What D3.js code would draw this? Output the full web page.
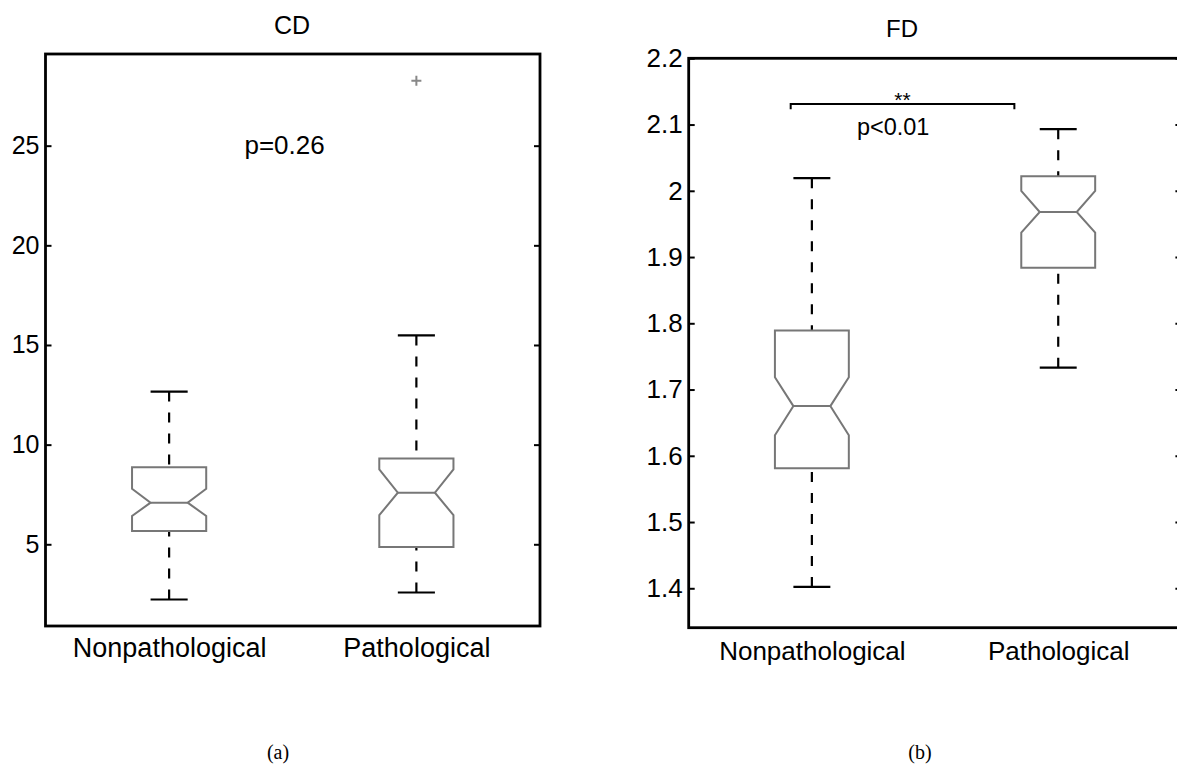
<!DOCTYPE html>
<html>
<head>
<meta charset="utf-8">
<script src="https://cdn.jsdelivr.net/npm/d3@7"></script>
<style>
  body { margin: 0; background: #fff; }
  svg { display: block; }
</style>
</head>
<body>
<div id="figure"></div>
<script>
// group names (same for both panels)
var categories = ["Nonpathological", "Pathological"];

// CD panel: box plot statistics
var cdWhiskerLow  = [2.23, 2.58];
var cdQ1          = [5.67, 4.87];
var cdNotchLow    = [6.42, 6.46];
var cdMedian      = [7.09, 7.59];
var cdNotchHigh   = [7.79, 8.76];
var cdQ3          = [8.86, 9.31];
var cdWhiskerHigh = [12.66, 15.48];
var cdOutliers    = [[], [28.26]];
var cdTicks       = [5, 10, 15, 20, 25];
var cdTickLabels  = ["5", "10", "15", "20", "25"];

// FD panel
var fdWhiskerLow  = [1.402, 1.733];
var fdQ1          = [1.581, 1.884];
var fdNotchLow    = [1.631, 1.937];
var fdMedian      = [1.675, 1.968];
var fdNotchHigh   = [1.7185, 2.000];
var fdQ3          = [1.789, 2.022];
var fdWhiskerHigh = [2.019, 2.093];
var fdOutliers    = [[], []];
var fdTicks       = [1.4, 1.5, 1.6, 1.7, 1.8, 1.9, 2.0, 2.1, 2.2];
var fdTickLabels  = ["1.4", "1.5", "1.6", "1.7", "1.8", "1.9", "2", "2.1", "2.2"];

var svg = d3.select("#figure")
  .append("svg")
    .attr("width", 1177)
    .attr("height", 764);

svg.append("rect").attr("width", 1177).attr("height", 764).attr("fill", "#fff");

function draw_box_panel(p) {
  var x = d3.scaleLinear().domain([0.5, 2.5]).range([p.left, p.right]);
  var y = d3.scaleLinear().domain(p.ydomain).range([p.bottom, p.top]);

  var g = svg.append("g").attr("font-family", "'Liberation Sans', Arial, sans-serif");

  // build one record per group from the arrays
  var rows = categories.map(function(c, i) {
    return {pos: i + 1, wlo: p.wlo[i], q1: p.q1[i], nlo: p.nlo[i], med: p.med[i],
            nhi: p.nhi[i], q3: p.q3[i], whi: p.whi[i], out: p.out[i]};
  });

  var hw = 0.15, nw = 0.075; // box half width, notch half width (x units)

  var box = g.selectAll(".bx").data(rows).enter().append("g");

  // dashed whiskers
  box.append("line")
    .attr("x1", function(d) { return x(d.pos); }).attr("x2", function(d) { return x(d.pos); })
    .attr("y1", function(d) { return y(d.whi); }).attr("y2", function(d) { return y(d.q3); })
    .attr("stroke", "#000").attr("stroke-width", 2.2).attr("stroke-dasharray", "10,11");
  box.append("line")
    .attr("x1", function(d) { return x(d.pos); }).attr("x2", function(d) { return x(d.pos); })
    .attr("y1", function(d) { return y(d.wlo); }).attr("y2", function(d) { return y(d.q1); })
    .attr("stroke", "#000").attr("stroke-width", 2.2).attr("stroke-dasharray", "10,11");

  // whisker caps
  ["whi", "wlo"].forEach(function(k) {
    box.append("line")
      .attr("x1", function(d) { return x(d.pos - nw); }).attr("x2", function(d) { return x(d.pos + nw); })
      .attr("y1", function(d) { return y(d[k]); }).attr("y2", function(d) { return y(d[k]); })
      .attr("stroke", "#000").attr("stroke-width", 2.2);
  });

  // notched box
  box.append("path")
    .attr("d", function(d) {
      var pts = [
        [d.pos - hw, d.q3], [d.pos + hw, d.q3], [d.pos + hw, d.nhi], [d.pos + nw, d.med],
        [d.pos + hw, d.nlo], [d.pos + hw, d.q1], [d.pos - hw, d.q1], [d.pos - hw, d.nlo],
        [d.pos - nw, d.med], [d.pos - hw, d.nhi]
      ];
      return d3.line().x(function(v) { return x(v[0]); }).y(function(v) { return y(v[1]); })(pts) + "Z";
    })
    .attr("fill", "none").attr("stroke", "#777").attr("stroke-width", 2).attr("stroke-linejoin", "miter");

  // median line
  box.append("line")
    .attr("x1", function(d) { return x(d.pos - nw); }).attr("x2", function(d) { return x(d.pos + nw); })
    .attr("y1", function(d) { return y(d.med); }).attr("y2", function(d) { return y(d.med); })
    .attr("stroke", "#777").attr("stroke-width", 2);

  // outliers as '+'
  rows.forEach(function(d) {
    d.out.forEach(function(o) {
      var cx = x(d.pos), cy = y(o);
      g.append("path")
        .attr("d", "M" + (cx - 5) + "," + cy + "H" + (cx + 5) + "M" + cx + "," + (cy - 5) + "V" + (cy + 5))
        .attr("stroke", "#888").attr("stroke-width", 2);
    });
  });

  // axes, ticks pointing inward
  var yl = d3.axisLeft(y).tickValues(p.ticks).tickFormat(function(d, i) { return p.tickLabels[i]; })
    .tickSize(-6).tickSizeOuter(0).tickPadding(6);
  var ya = g.append("g").attr("transform", "translate(" + p.left + ",0)").call(yl);
  ya.selectAll("text").attr("font-size", p.tickFs).attr("fill", "#000")
    .attr("font-family", "'Liberation Sans', Arial, sans-serif");
  ya.selectAll("line").attr("stroke-width", 2);

  var yr = d3.axisRight(y).tickValues(p.ticks).tickFormat("").tickSize(-6).tickSizeOuter(0);
  var yra = g.append("g").attr("transform", "translate(" + p.right + ",0)").call(yr);
  yra.selectAll("line").attr("stroke-width", 2);

  g.selectAll(".domain").remove();

  // frame
  g.append("rect")
    .attr("x", p.left).attr("y", p.top)
    .attr("width", p.right - p.left).attr("height", p.bottom - p.top)
    .attr("fill", "none").attr("stroke", "#000").attr("stroke-width", 2.8);

  // group labels
  var xa = g.append("g").attr("transform", "translate(0," + p.bottom + ")")
    .call(d3.axisBottom(x).tickValues([1, 2]).tickFormat(function(d) { return categories[d - 1]; })
      .tickSize(0).tickPadding(p.labelPad));
  xa.select(".domain").remove();
  xa.selectAll("text").attr("font-size", p.labelFs).attr("fill", "#000")
    .attr("font-family", "'Liberation Sans', Arial, sans-serif");

  // title
  g.append("text")
    .attr("x", p.titleX).attr("y", p.titleY)
    .attr("text-anchor", "middle").attr("font-size", p.fs)
    .text(p.title);

  return {x: x, y: y, g: g};
}

var cd = draw_box_panel({
  left: 45.5, right: 540, top: 54, bottom: 626, ydomain: [0.9, 29.6],
  wlo: cdWhiskerLow, q1: cdQ1, nlo: cdNotchLow, med: cdMedian, nhi: cdNotchHigh,
  q3: cdQ3, whi: cdWhiskerHigh, out: cdOutliers,
  ticks: cdTicks, tickLabels: cdTickLabels, fs: 25, tickFs: 25, labelFs: 27, labelPad: 12,
  title: "CD", titleX: 292, titleY: 34
});

var fd = draw_box_panel({
  left: 688.7, right: 1181.4, top: 58.3, bottom: 627.7, ydomain: [1.3405, 2.2],
  wlo: fdWhiskerLow, q1: fdQ1, nlo: fdNotchLow, med: fdMedian, nhi: fdNotchHigh,
  q3: fdQ3, whi: fdWhiskerHigh, out: fdOutliers,
  ticks: fdTicks, tickLabels: fdTickLabels, fs: 24, tickFs: 26, labelFs: 26, labelPad: 14,
  title: "FD", titleX: 902, titleY: 37
});

// p value annotation in CD panel
cd.g.append("text")
  .attr("x", cd.x(1.467)).attr("y", cd.y(24.59))
  .attr("text-anchor", "middle").attr("font-size", 26)
  .text("p=0.26");

// significance bracket in FD panel
var bx0 = 0.914, bx1 = 1.822, by = 2.131, byEnd = 2.123;
fd.g.append("path")
  .attr("d", "M" + fd.x(bx0) + "," + fd.y(byEnd) + "V" + fd.y(by) + "H" + fd.x(bx1) + "V" + fd.y(byEnd))
  .attr("fill", "none").attr("stroke", "#000").attr("stroke-width", 2);
fd.g.append("text")
  .attr("x", fd.x((bx0 + bx1) / 2)).attr("y", fd.y(by) + 3)
  .attr("text-anchor", "middle").attr("font-size", 21)
  .text("**");
fd.g.append("text")
  .attr("x", fd.x(1.33)).attr("y", fd.y(2.1) + 10)
  .attr("text-anchor", "middle").attr("font-size", 23.5)
  .text("p<0.01");

// sub-figure captions
svg.append("text").attr("x", 278).attr("y", 759).attr("text-anchor", "middle")
  .attr("font-family", "'Liberation Serif', 'Times New Roman', serif").attr("font-size", 20)
  .text("(a)");
svg.append("text").attr("x", 920).attr("y", 759).attr("text-anchor", "middle")
  .attr("font-family", "'Liberation Serif', 'Times New Roman', serif").attr("font-size", 20)
  .text("(b)");
</script>
</body>
</html>
